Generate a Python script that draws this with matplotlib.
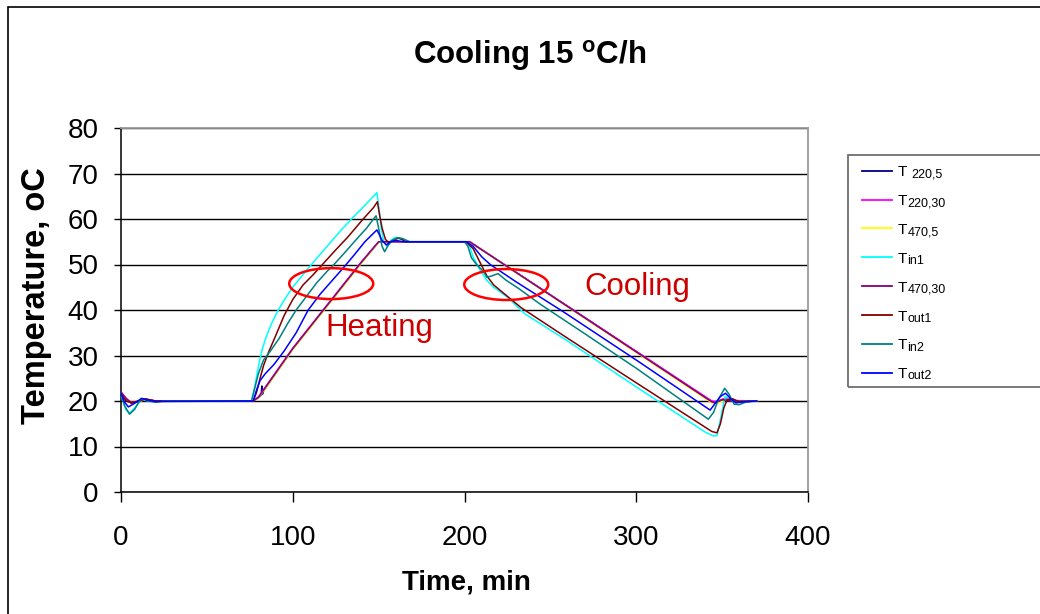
import matplotlib
matplotlib.use("Agg")
import matplotlib.pyplot as plt
from matplotlib.patches import Ellipse, Rectangle
from matplotlib.lines import Line2D

plt.rcParams['font.family'] = ['Liberation Sans', 'DejaVu Sans']
plt.rcParams['mathtext.fontset'] = 'custom'
plt.rcParams['mathtext.rm'] = 'Liberation Sans'

# ---- measured temperatures (time in min, temperature in oC) ----
t_t220_5 = [0, 3, 6, 10, 14, 20, 77, 80, 81.6, 82, 82.4, 83, 100, 120, 140, 150, 152, 203, 344, 346, 350, 356, 370]
T_t220_5 = [21.8, 20.4, 19.5, 19.9, 20.4, 20.0, 20.0, 20.7, 21.3, 23.3, 21.5, 22.2, 31.4, 40.9, 50.4, 54.9, 55.0, 55.0, 19.9, 19.7, 20.2, 20.0, 20.0]

t_t220_30 = [0, 3, 6, 10, 14, 20, 77, 80, 83, 100, 120, 140, 150, 152, 203, 344, 347, 352, 358, 370]
T_t220_30 = [21.9, 20.6, 19.7, 19.9, 20.4, 20.0, 20.0, 20.9, 22.5, 31.6, 41.1, 50.6, 55.0, 55.0, 55.0, 20.0, 19.9, 20.7, 20.1, 20.0]

t_t470_5 = [0, 3, 6, 10, 14, 20, 77, 80, 83, 100, 120, 140, 150, 152, 203, 344, 347, 352, 358, 370]
T_t470_5 = [21.7, 20.4, 19.6, 19.8, 20.3, 20.0, 20.0, 20.7, 22.2, 31.3, 40.8, 50.3, 54.9, 55.0, 55.0, 19.6, 19.5, 20.2, 20.0, 20.0]

t_tin1 = [0, 3, 5, 8, 12, 16, 76, 77.5, 79, 80.5, 82, 84, 86, 88, 91, 95, 100, 106, 112, 120, 128, 135, 142, 147, 149,
          150, 151.5, 153, 155, 157, 160, 163, 168, 201, 203, 205, 209, 213, 217, 225, 235, 260, 300,
          340, 345, 347, 349, 351.7, 354, 358, 370]
T_tin1 = [21.5, 18.0, 17.3, 18.5, 20.3, 20.0, 20.0, 22.5, 25.5, 28.5, 31.0, 33.5, 35.5, 37.3, 39.6, 42.2, 45.0, 47.8, 50.5, 54.0, 57.5, 60.3, 63.0, 65.0, 65.8,
          63.0, 58.0, 55.0, 54.0, 55.3, 56.0, 55.5, 55.0, 55.0, 54.0, 51.7, 48.8, 46.5, 45.0, 42.8, 39.2, 33.2, 23.1,
          13.2, 12.3, 12.4, 16.0, 21.0, 20.5, 19.8, 20.0]

t_t470_30 = [0, 3, 6, 10, 14, 20, 77, 80, 83, 100, 120, 140, 150, 152, 203, 344, 346, 350, 356, 370]
T_t470_30 = [22.0, 20.5, 19.6, 19.8, 20.5, 20.0, 20.0, 20.8, 22.4, 31.5, 41.0, 50.5, 55.0, 55.0, 55.0, 19.8, 19.6, 20.3, 20.0, 20.0]

t_tout1 = [0, 3, 6, 10, 14, 20, 77, 79, 81, 83, 86, 90, 95, 100, 106, 112, 118, 125, 132, 141, 147, 149.3,
           150.5, 152, 154, 156, 159, 162, 166, 201, 205, 209, 213, 217, 225, 233, 260, 300, 344, 347,
           349, 351, 353, 356, 360, 370]
T_tout1 = [21.5, 20.0, 19.6, 20.0, 20.4, 20.0, 20.0, 22.0, 25.0, 27.8, 30.8, 34.3, 38.8, 42.3, 45.5, 47.8, 50.3, 53.2, 56.0, 60.0, 62.5, 63.8,
           61.0, 58.0, 55.5, 54.8, 55.5, 55.8, 55.0, 55.0, 53.5, 50.5, 47.5, 45.5, 43.0, 40.5, 33.8, 24.0, 13.3, 13.0,
           15.0, 18.5, 20.3, 20.5, 19.8, 20.0]

t_tin2 = [0, 2, 5, 8, 11, 13, 16, 20.5, 25, 76, 78, 80, 83, 87, 92, 97, 102, 108, 114, 120, 124, 130, 137, 143, 147, 148.5,
          150, 152, 153.5, 155.5, 158, 161, 164, 168, 200, 202, 204, 207, 211, 213, 216, 219.5, 224, 232, 244, 270, 300,
          342, 345, 348, 351.5, 354, 357, 360, 364, 370]
T_tin2 = [21.8, 19.0, 17.1, 18.2, 20.2, 20.5, 20.0, 19.7, 20.0, 20.0, 23.0, 26.0, 29.0, 31.0, 33.7, 37.0, 40.0, 43.0, 46.0, 48.5, 50.0, 52.5, 55.5, 58.0, 60.0, 60.7,
          58.0, 54.0, 52.8, 54.2, 55.3, 55.9, 55.7, 55.0, 55.0, 54.0, 51.5, 50.0, 48.5, 47.2, 47.5, 48.0, 46.6, 44.6, 41.3, 34.8, 27.2,
          16.0, 17.5, 20.5, 22.8, 21.5, 19.3, 19.2, 19.8, 20.0]

t_tout2 = [0, 2, 4.3, 8, 12, 15, 20, 77, 79, 81, 84, 89, 95, 102, 109, 116, 123, 130, 136, 142, 149,
           150.5, 152, 154.5, 157, 160, 164, 201, 205, 210, 215, 230, 258, 302, 343, 346, 349, 352, 355, 358, 362, 370]
T_tout2 = [21.7, 19.8, 18.7, 19.5, 20.6, 20.2, 19.9, 20.0, 22.5, 24.5, 26.0, 28.0, 31.0, 35.0, 40.0, 43.5, 46.5, 49.5, 52.2, 55.0, 57.6,
           56.5, 55.3, 54.3, 55.0, 55.3, 55.0, 55.0, 54.0, 51.7, 50.0, 46.2, 39.5, 28.5, 18.0, 19.5, 21.0, 21.7, 20.5, 19.6, 19.8, 20.0]

legend_main = ["T ", "T", "T", "T", "T", "T", "T", "T"]
legend_sub = ["220,5", "220,30", "470,5", "in1", "470,30", "out1", "in2", "out2"]
series_colors = ["#000080", "#FF00FF", "#FFFF00", "#00FFFF", "#800080", "#800000", "#008080", "#0000FF"]
series_t = [t_t220_5, t_t220_30, t_t470_5, t_tin1, t_t470_30, t_tout1, t_tin2, t_tout2]
series_T = [T_t220_5, T_t220_30, T_t470_5, T_tin1, T_t470_30, T_tout1, T_tin2, T_tout2]

x_ticks = [0, 100, 200, 300, 400]
y_ticks = [0, 10, 20, 30, 40, 50, 60, 70, 80]

W, H = 1040, 614
fig = plt.figure(figsize=(W / 100, H / 100), dpi=100)
fig.patch.set_facecolor("white")

L, R, B, T = 121, 808, 492, 128
ax = fig.add_axes([L / W, 1 - B / H, (R - L) / W, (B - T) / H])

for tt, TT, c in zip(series_t, series_T, series_colors):
    ax.plot(tt, TT, color=c, lw=1.1, zorder=3)

ax.set_xlim(0, 400)
ax.set_ylim(0, 80)
ax.set_xticks(x_ticks)
ax.set_yticks(y_ticks)
ax.tick_params(axis="both", labelsize=20, color="black", width=1)
ax.tick_params(axis="x", direction="out", length=7, pad=17)
ax.tick_params(axis="y", direction="out", length=5, pad=11)
ax.yaxis.grid(True, color="black", lw=1.0)
ax.set_axisbelow(True)
for s in ("left", "bottom"):
    ax.spines[s].set_color("black")
    ax.spines[s].set_linewidth(1.1)
for s in ("top", "right"):
    ax.spines[s].set_color("#9a9a9a")
    ax.spines[s].set_linewidth(1.3)

# annotations
for cx, cy in ((122.4, 45.8), (224.3, 45.6)):
    ax.add_patch(Ellipse((cx, cy), 48.9, 6.8, fill=False, edgecolor="#FF0000", lw=1.8, zorder=4))
ax.text(150.2, 36.0, "Heating", color="#CC0000", fontsize=22.5, ha="center", va="center", zorder=5)
ax.text(300.4, 45.0, "Cooling", color="#CC0000", fontsize=22.5, ha="center", va="center", zorder=5)

# titles
fig.text(530 / W, 1 - 56 / H, "Cooling 15 $^{\\mathregular{o}}$C/h", fontsize=22.5, fontweight="bold",
         ha="center", va="center")
fig.text(466 / W, 1 - 583 / H, "Time, min", fontsize=20, fontweight="bold", ha="center", va="center")
fig.text(37 / W, 1 - 296 / H, "Temperature, oC", fontsize=23.5, fontweight="bold", ha="center", va="center",
         rotation=90)

# legend: sample line, "T" and a smaller subscript per entry
renderer = fig.canvas.get_renderer()
row_y = 170.7
for main, sub, c in zip(legend_main, legend_sub, series_colors):
    yf = 1 - row_y / H
    fig.add_artist(Line2D([862 / W, 892 / W], [yf, yf], transform=fig.transFigure, color=c, lw=1.3))
    base = 1 - (row_y + 5.5) / H
    tm = fig.text(898 / W, base, main, fontsize=11, va="baseline", ha="left")
    ext = tm.get_window_extent(renderer=renderer)
    fig.text(ext.x1 / W, base - 1.2 / H, sub, fontsize=9, va="baseline", ha="left")
    row_y += 28.86
fig.add_artist(Rectangle((848 / W, 1 - 387 / H), 200 / W, 232 / H, transform=fig.transFigure,
                         fill=False, edgecolor="#707070", lw=1.3))

# outer chart frame
fig.add_artist(Rectangle((8 / W, -0.05), 1.1, 1 - 7 / H + 0.05, transform=fig.transFigure,
                         fill=False, edgecolor="black", lw=1.2))

fig.savefig("out.png", dpi=100)
